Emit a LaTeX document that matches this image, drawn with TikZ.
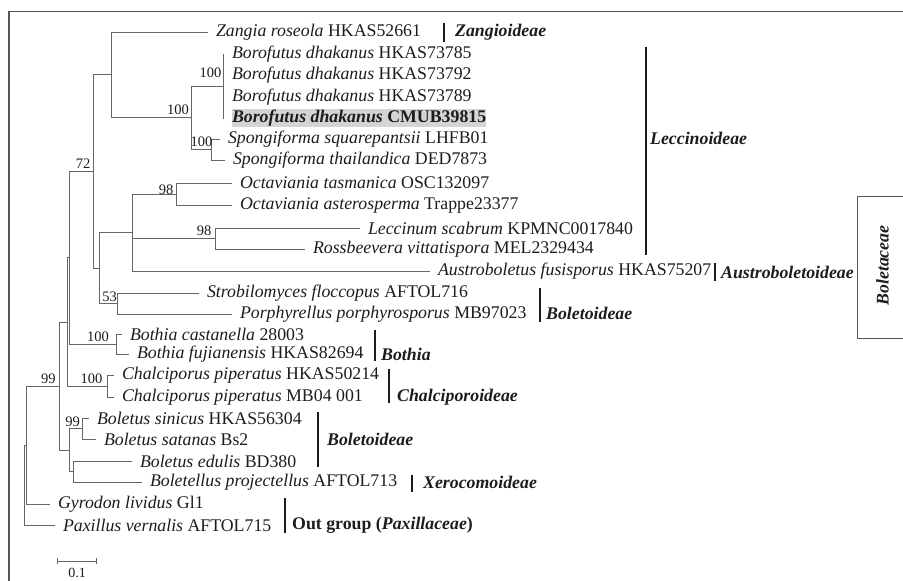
\documentclass[tikz,border=0pt]{standalone}
\usepackage{fontspec}
\setmainfont{Liberation Serif}
\usepackage{xcolor}
\usepackage{tikz}
\usetikzlibrary{arrows.meta,positioning,calc}
\definecolor{branch}{HTML}{666666}
\definecolor{ink}{HTML}{1C1C1C}
\definecolor{frameg}{HTML}{555555}
\definecolor{hilite}{HTML}{D4D4D4}
\newcommand{\taxsize}{\fontsize{17.8pt}{21pt}\selectfont}
\newcommand{\bssize}{\fontsize{14.5pt}{16pt}\selectfont}
\newcommand{\sclsize}{\fontsize{14pt}{15pt}\selectfont}

\begin{document}
\begin{tikzpicture}[x=1pt,y=-1pt,
 tip/.style={anchor=west,inner xsep=0pt,inner ysep=1pt,outer xsep=9pt,outer ysep=0pt,text=ink,font=\taxsize},
 bs/.style={inner sep=0pt,text=ink,font=\bssize},
 br/.style={draw=branch,line width=1pt,line cap=rect},
 clade/.style={anchor=west,inner sep=0pt,text=ink,font={\taxsize\bfseries\itshape}},
 bar/.style={draw=ink,line width=1.8pt}]
\useasboundingbox (0,0) rectangle (903,581);
\draw[draw=frameg,line width=1.1pt] (9,581) -- (9,11.5) -- (903,11.5);
\node[tip] (zan) at (207,32) {\textit{Zangia roseola} HKAS52661};
\node[tip] (bd1) at (223,54) {\textit{Borofutus dhakanus} HKAS73785};
\node[tip] (bd2) at (223,75.5) {\textit{Borofutus dhakanus} HKAS73792};
\node[tip] (bd3) at (223,97) {\textit{Borofutus dhakanus} HKAS73789};
\node[tip,fill=hilite,font={\taxsize\bfseries}] (bd4) at (223,118) {\textit{Borofutus dhakanus} CMUB39815};
\node[tip] (ssq) at (219,139) {\textit{Spongiforma squarepantsii} LHFB01};
\node[tip] (sth) at (224,160) {\textit{Spongiforma thailandica} DED7873};
\node[tip] (ota) at (231,183) {\textit{Octaviania tasmanica} OSC132097};
\node[tip] (oas) at (231,205) {\textit{Octaviania asterosperma} Trappe23377};
\node[tip] (lsc) at (359,228) {\textit{Leccinum scabrum} KPMNC0017840};
\node[tip] (rvi) at (304,249.5) {\textit{Rossbeevera vittatispora} MEL2329434};
\node[tip] (afu) at (429,271.5) {\textit{Austroboletus fusisporus} HKAS75207};
\node[tip] (sfl) at (198,293) {\textit{Strobilomyces floccopus} AFTOL716};
\node[tip] (ppo) at (231,314) {\textit{Porphyrellus porphyrosporus} MB97023};
\node[tip] (bca) at (121,334.5) {\textit{Bothia castanella} 28003};
\node[tip] (bfu) at (128,354) {\textit{Bothia fujianensis} HKAS82694};
\node[tip] (cp1) at (113,375) {\textit{Chalciporus piperatus} HKAS50214};
\node[tip] (cp2) at (113,397) {\textit{Chalciporus piperatus} MB04 001};
\node[tip] (bsi) at (88,418) {\textit{Boletus sinicus} HKAS56304};
\node[tip] (bsa) at (95,439) {\textit{Boletus satanas} Bs2};
\node[tip] (bed) at (131,461) {\textit{Boletus edulis} BD380};
\node[tip] (bpr) at (141,482.5) {\textit{Boletellus projectellus} AFTOL713};
\node[tip] (gli) at (49,504.5) {\textit{Gyrodon lividus} Gl1};
\node[tip] (pve) at (54,525) {\textit{Paxillus vernalis} AFTOL715};
\coordinate (root) at (24,485);
\coordinate (gyrn) at (26,445.25);
\coordinate (ingr) at (59,386);
\coordinate (upn) at (67.5,322);
\coordinate (midn) at (69,257.9);
\coordinate (leccn) at (93,171.5);
\coordinate (zbn) at (111,74.9);
\coordinate (bsn) at (191,117.75);
\coordinate (boron) at (223,86);
\coordinate (spgn) at (211,149.5);
\coordinate (n2) at (99,268.1);
\coordinate (olan) at (132,232.75);
\coordinate (octn) at (176,194);
\coordinate (lrn) at (215,238.75);
\coordinate (strn) at (117,303.5);
\coordinate (bothn) at (116,344.25);
\coordinate (chaln) at (107,386);
\coordinate (boln) at (69,450.1);
\coordinate (bssn) at (82,428.5);
\coordinate (ebn) at (73,471.75);
\foreach \a/\b in {root/gyrn,root/pve,gyrn/ingr,gyrn/gli,ingr/upn,ingr/boln,upn/midn,upn/chaln,
  midn/leccn,midn/bothn,leccn/zbn,leccn/n2,zbn/zan,zbn/bsn,bsn/boron,bsn/spgn,
  boron/bd1,boron/bd2,boron/bd3,boron/bd4,spgn/ssq,spgn/sth,n2/olan,n2/strn,
  olan/octn,olan/lrn,olan/afu,octn/ota,octn/oas,lrn/lsc,lrn/rvi,strn/sfl,strn/ppo,
  bothn/bca,bothn/bfu,chaln/cp1,chaln/cp2,boln/bssn,boln/ebn,bssn/bsi,bssn/bsa,ebn/bed,ebn/bpr}
  {\draw[br] (\a) |- (\b);}
\node[bs] (s72) at (83,164) {72};
\node[bs] (szb) at (178,110) {100};
\node[bs] (sbor) at (210.5,73) {100};
\node[bs] (sspg) at (201.5,142) {100};
\node[bs] (soct) at (166,190) {98};
\node[bs] (slr) at (204,231) {98};
\node[bs] (sstr) at (109.5,297) {53};
\node[bs] (sbot) at (98,337) {100};
\node[bs] (schl) at (91.5,379) {100};
\node[bs] (sing) at (48.5,379) {99};
\node[bs] (sbss) at (72.5,422) {99};
\draw[bar] (444,23) -- (444,42);
\node[clade] (zangl) at (455,32) {Zangioideae};
\draw[bar] (646,47) -- (646,255);
\node[clade] (leccl) at (650,138.5) {Leccinoideae};
\draw[bar] (715,263) -- (715,281);
\node[clade] (austl) at (721,272) {Austroboletoideae};
\draw[bar] (540,288) -- (540,322);
\node[clade] (bolel) at (546,313) {Boletoideae};
\draw[bar] (375,330) -- (375,361);
\node[clade] (bothl) at (381,354) {Bothia};
\draw[bar] (389,369) -- (389,403);
\node[clade] (chall) at (397,397) {Chalciporoideae};
\draw[bar] (318,412) -- (318,467);
\node[clade] (bole2l) at (327,439) {Boletoideae};
\draw[bar] (412,475) -- (412,492);
\node[clade] (xerol) at (423,482) {Xerocomoideae};
\draw[bar] (285,498) -- (285,533);
\node[clade,font={\taxsize\bfseries}] (outl) at (292,525) {Out group (\textit{Paxillaceae})};
\draw[draw=frameg,line width=0.9pt] (903,196) -- (857,196) -- (857,338.5) -- (903,338.5);
\node[clade,rotate=90,anchor=center] (famil) at (882.5,265.5) {Boletaceae};
\coordinate (sc0) at (57,561);
\coordinate (sc1) at (97,561);
\draw[br,{Bar[width=6pt]}-{Bar[width=6pt]}] (sc0) -- (sc1);
\node[bs,font=\sclsize] (scl) at (77,573) {0.1};
\end{tikzpicture}
\end{document}
